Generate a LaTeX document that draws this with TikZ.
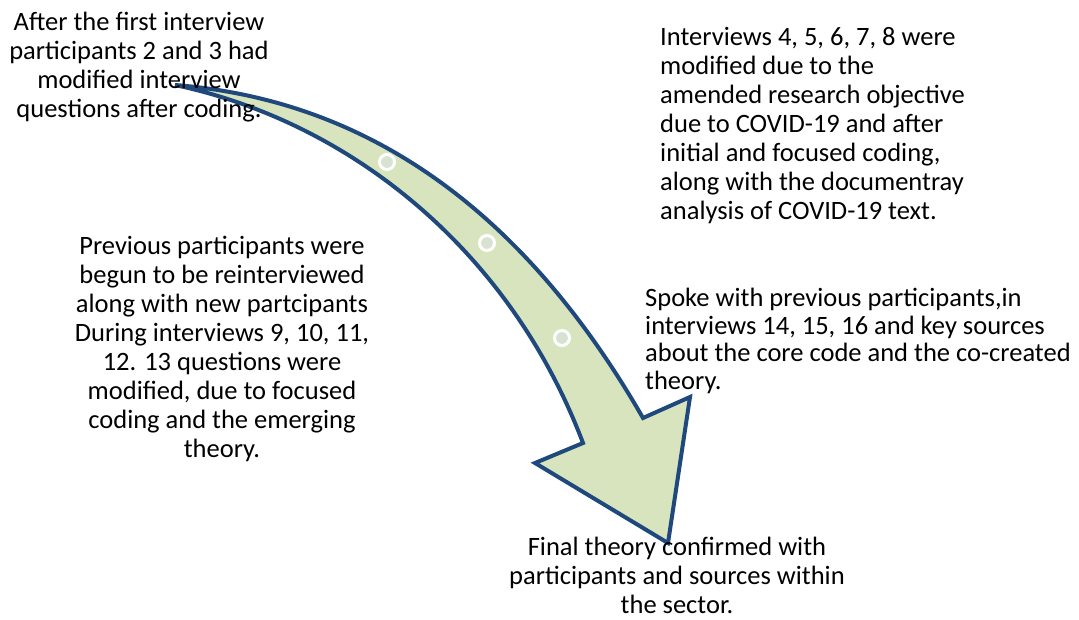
\documentclass[tikz,border=0pt]{standalone}
\usepackage{fontspec}
\setmainfont{Carlito}
\definecolor{arrowline}{HTML}{1F497D}
\definecolor{arrowfill}{HTML}{D7E4BD}
\definecolor{dotfill}{HTML}{D8E2D0}
\tikzset{
  lbl/.style={inner sep=0pt, font=\fontsize{26.5}{29}\selectfont, text=black},
  dot/.style={circle, draw=white, line width=3pt, fill=dotfill, minimum size=15pt, inner sep=0pt}
}
\begin{document}
\begin{tikzpicture}[x=1pt,y=-1pt]
\useasboundingbox (0,0) rectangle (1079,619);
% curved arrow
\draw[arrowline, line width=4pt, fill=arrowfill, line join=miter]
  (175,85) .. controls (368,100) and (524,211) .. (643,418)
  -- (690,397) -- (668,543) -- (535,463) -- (583,443)
  .. controls (510,250) and (350,122) .. (175,85)
  -- cycle;
\node[dot] (d1) at (387,162) {};
\node[dot] (d2) at (487,243) {};
\node[dot] (d3) at (562,338) {};
% labels
\node[lbl, align=center] (t1) at (139,67) {After the first interview\\participants 2 and 3 had\\modified interview\\questions after coding.};
\node[lbl, align=left, anchor=west] (t2) at (660,126) {Interviews 4, 5, 6, 7, 8 were\\modified due to the\\amended research objective\\due to COVID-19 and after\\initial and focused coding,\\along with the documentray\\analysis of COVID-19 text.};
\node[lbl, align=center] (t3) at (222,349) {Previous participants were\\begun to be reinterviewed\\along with new partcipants\\During interviews 9, 10, 11,\\12. 13 questions were\\modified, due to focused\\coding and the emerging\\theory.};
\node[lbl, align=left, anchor=west, font=\fontsize{26.5}{27.5}\selectfont] (t4) at (645,341) {Spoke with previous participants,in\\interviews 14, 15, 16 and key sources\\about the core code and the co-created\\theory.};
\node[lbl, align=center, font=\fontsize{26.5}{29}\selectfont] (t5) at (677,575) {Final theory confirmed with\\participants and sources within\\the sector.};
\end{tikzpicture}
\end{document}
